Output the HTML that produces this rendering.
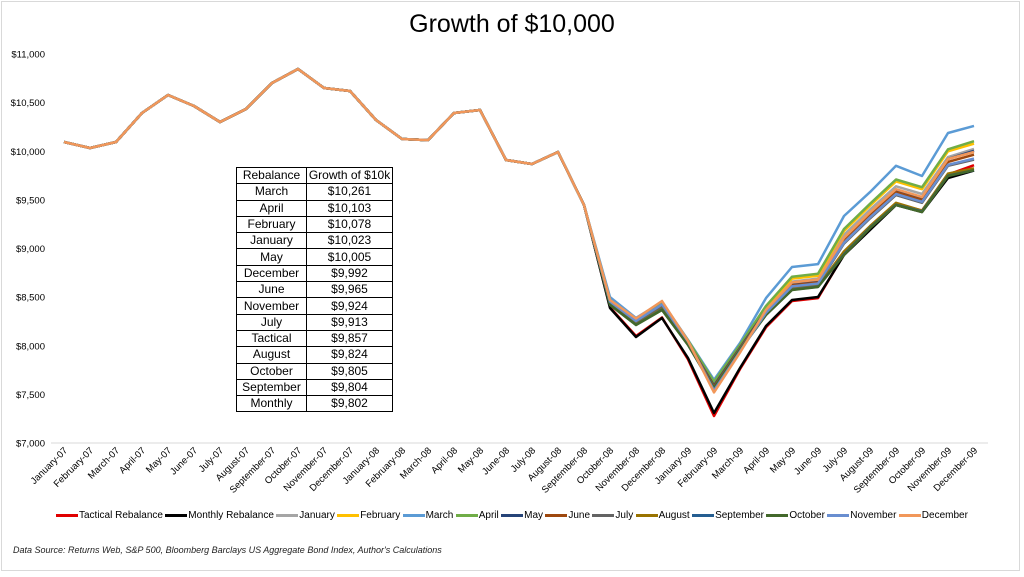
<!DOCTYPE html>
<html><head><meta charset="utf-8"><style>
body{margin:0;background:#fff;font-family:"Liberation Sans",Arial,sans-serif;}
#wrap{position:relative;width:1024px;height:577px;overflow:hidden;}
#frame{position:absolute;left:1px;top:1px;width:1017px;height:568px;border:1px solid #d9d9d9;}
#title{position:absolute;left:0;width:1024px;top:10px;text-align:center;font-size:25px;color:#000;}
#legend{position:absolute;left:56px;width:912px;top:510px;display:flex;justify-content:space-between;font-size:10px;color:#000;}
.li{display:flex;align-items:center;white-space:nowrap;}
.sw{display:inline-block;width:22px;height:3px;margin-right:1px;}
#src{position:absolute;left:13px;top:545px;font-size:9px;font-style:italic;color:#222;}
table{position:absolute;left:236px;top:167px;border-collapse:collapse;font-size:12px;background:#fff;}
td{border:1px solid #000;height:15.3px;padding:0;text-align:center;line-height:15px;}
td.a{width:69px;}td.b{width:85px;}
</style></head><body>
<div id="wrap">
<div id="frame"></div>
<div id="title">Growth of $10,000</div>
<svg id="plot" width="1024" height="577" style="position:absolute;left:0;top:0"></svg>
<table><tbody id="tb"></tbody></table>
<div id="legend"></div>
<div id="src">Data Source: Returns Web, S&amp;P 500, Bloomberg Barclays US Aggregate Bond Index, Author's Calculations</div>
</div>
<script>
const months=["January-07","February-07","March-07","April-07","May-07","June-07","July-07","August-07","September-07","October-07","November-07","December-07","January-08","February-08","March-08","April-08","May-08","June-08","July-08","August-08","September-08","October-08","November-08","December-08","January-09","February-09","March-09","April-09","May-09","June-09","July-09","August-09","September-09","October-09","November-09","December-09"];
const yTicks=[7000,7500,8000,8500,9000,9500,10000,10500,11000];
const yTickLabels=["$7,000","$7,500","$8,000","$8,500","$9,000","$9,500","$10,000","$10,500","$11,000"];
const common=[10095,10033,10095,10393,10578,10465,10301,10434,10702,10846,10650,10620,10321,10126,10115,10393,10424,9910,9869,9992,9447];
const seriesNames=["Tactical Rebalance","Monthly Rebalance","January","February","March","April","May","June","July","August","September","October","November","December"];
const seriesColors=["#e00000","#000000","#a5a5a5","#ffc000","#5b9bd5","#70ad47","#264478","#9e480e","#636363","#997300","#255e91","#43682b","#698ed0","#f1975a"];
const tactical=[8395,8100,8290,7860,7278,7760,8190,8460,8490,8940,9200,9460,9390,9760,9857];
const monthly=[8388,8090,8285,7874,7308,7771,8203,8470,8501,8933,9190,9447,9375,9725,9802];
const janT=[8450,8250,8420,8040,7600,7990,8380,8660,8690,9140,9400,9640,9560,9940,10023];
const febT=[8460,8260,8430,8050,7620,8000,8400,8690,8720,9180,9440,9690,9610,10000,10078];
const marT=[8500,8285,8450,8060,7650,8028,8490,8810,8840,9334,9580,9850,9745,10188,10261];
const aprT=[8465,8265,8435,8055,7630,8010,8410,8710,8740,9200,9460,9710,9630,10020,10103];
const mayT=[8430,8230,8400,8030,7590,7980,8360,8640,8670,9100,9360,9600,9520,9920,10005];
const junT=[8440,8240,8410,8035,7580,7975,8350,8620,8650,9080,9340,9580,9500,9890,9965];
const julT=[8435,8235,8405,8030,7570,7970,8340,8600,8630,9050,9310,9550,9470,9850,9913];
const augT=[8425,8220,8380,8015,7560,7960,8320,8580,8610,8970,9230,9470,9390,9770,9824];
const sepT=[8420,8215,8372,8010,7555,7956,8318,8575,8606,8940,9215,9450,9380,9750,9804];
const octT=[8420,8213,8368,8008,7565,7956,8316,8573,8604,8933,9210,9447,9375,9745,9805];
const novT=[8455,8255,8425,8045,7540,7940,8340,8610,8640,9060,9320,9560,9480,9860,9924];
const decT=[8470,8280,8460,8050,7520,7930,8370,8650,8680,9110,9370,9610,9530,9920,9992];
const tails=[tactical,monthly,janT,febT,marT,aprT,mayT,junT,julT,augT,sepT,octT,novT,decT];
const tableNames=["March","April","February","January","May","December","June","November","July","Tactical","August","October","September","Monthly"];
const tableValues=["$10,261","$10,103","$10,078","$10,023","$10,005","$9,992","$9,965","$9,924","$9,913","$9,857","$9,824","$9,805","$9,804","$9,802"];

const X0=64,X1=974,Y0=443,Y1=54,VMIN=7000,VMAX=11000;
const xs=i=>X0+(X1-X0)*i/(months.length-1);
const ys=v=>Y0-(v-VMIN)/(VMAX-VMIN)*(Y0-Y1);
const NS="http://www.w3.org/2000/svg";
const svg=document.getElementById('plot');
function mk(t,a){const e=document.createElementNS(NS,t);for(const k in a)e.setAttribute(k,a[k]);svg.appendChild(e);return e;}
let ax=mk('line',{x1:51,x2:988,y1:ys(7000),y2:ys(7000),stroke:'#d9d9d9','stroke-width':1});


yTicks.forEach((v,i)=>{const t=mk('text',{x:45,y:ys(v)+3.5,'text-anchor':'end','font-size':9.5,fill:'#000'});t.textContent=yTickLabels[i];

});
months.forEach((m,i)=>{const x=xs(i)+4,y=451;const t=mk('text',{x:x,y:y,'text-anchor':'end','font-size':9.5,fill:'#000',transform:`rotate(-45 ${x} ${y})`});t.textContent=m;

});
tails.forEach((tail,s)=>{const vals=common.concat(tail);const d=vals.map((v,i)=>(i?'L':'M')+xs(i).toFixed(1)+','+ys(v).toFixed(1)).join('');
const p=mk('path',{d:d,fill:'none',stroke:seriesColors[s],'stroke-width':2.5,'stroke-linejoin':'round'});

});
const lg=document.getElementById('legend');
seriesNames.forEach((n,s)=>{const d=document.createElement('div');d.className='li';d.innerHTML=`<span class="sw" style="background:${seriesColors[s]}"></span>${n}`;


lg.appendChild(d);});
const tb=document.getElementById('tb');
let h=document.createElement('tr');h.innerHTML='<td class="a">Rebalance</td><td class="b">Growth of $10k</td>';


tb.appendChild(h);
tableNames.forEach((n,i)=>{const r=document.createElement('tr');r.innerHTML=`<td class="a">${n}</td><td class="b">${tableValues[i]}</td>`;


tb.appendChild(r);});
</script>
</body></html>
